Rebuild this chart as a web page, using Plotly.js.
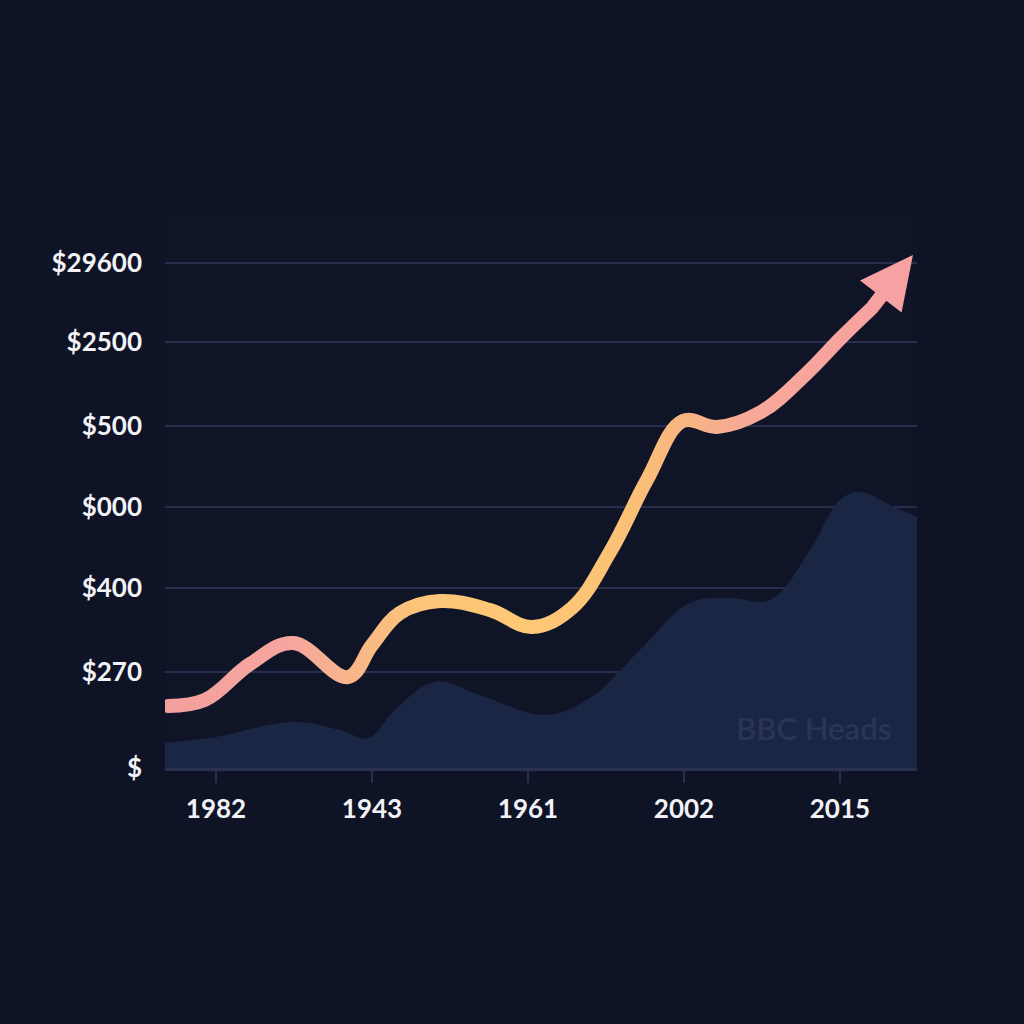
<!DOCTYPE html>
<html>
<head>
<meta charset="utf-8">
<script src="https://cdn.plot.ly/plotly-3.0.1.min.js"></script>
<style>
html,body{margin:0;padding:0;background:#0e1425;}
#chart{width:1024px;height:1024px;}
</style>
</head>
<body>
<div id="chart"></div>
<script>
// X axis tick positions and labels
const xTickVals = [0, 1, 2, 3, 4];
const xTickText = ['1982', '1943', '1961', '2002', '2015'];

// Y axis tick positions and labels
const yTickVals = [0, 1.143, 2.143, 3.107, 4.071, 5.071, 6.012];
const yTickText = ['$', '$270', '$400', '$000', '$500', '$2500', '$29600'];

// Main rising line (last point = arrow tip)
const lineX = [-0.308, -0.071, 0.218, 0.494, 0.846, 1.000, 1.179, 1.436, 1.756, 2.026, 2.282, 2.526, 2.763, 2.994, 3.212, 3.494, 3.782, 4.006, 4.205, 4.468];
const lineY = [0.738, 0.810, 1.238, 1.488, 1.083, 1.464, 1.845, 1.988, 1.881, 1.679, 1.905, 2.571, 3.429, 4.131, 4.060, 4.238, 4.690, 5.119, 5.476, 6.107];

// Background area series
const areaX = [-0.327, -0.006, 0.494, 0.795, 0.974, 1.147, 1.404, 1.692, 2.109, 2.397, 2.718, 3.038, 3.295, 3.551, 3.808, 4.000, 4.128, 4.321, 4.494];
const areaY = [0.298, 0.369, 0.548, 0.452, 0.357, 0.690, 1.024, 0.869, 0.631, 0.833, 1.405, 1.964, 2.024, 2.000, 2.595, 3.190, 3.286, 3.131, 2.988];

const n = lineX.length;
const bodyX = lineX.slice(0, n - 1);
const bodyY = lineY.slice(0, n - 1);

const data = [
  {
    x: areaX, y: areaY, type: 'scatter', mode: 'lines',
    line: {shape: 'spline', smoothing: 1.1, width: 0, color: 'rgba(0,0,0,0)'},
    fill: 'tozeroy', fillcolor: '#1b2645', hoverinfo: 'skip'
  },
  {
    x: bodyX, y: bodyY, type: 'scatter', mode: 'lines',
    line: {shape: 'spline', smoothing: 1.1, width: 14, color: '#fbbf7c'},
    hoverinfo: 'skip'
  }
];

const boldFont = {family: 'Lato, "Open Sans", sans-serif', size: 26, color: '#f2f2f7', weight: 'bold'};

const layout = {
  width: 1024, height: 1024,
  margin: {l: 165, r: 107, t: 215, b: 256},
  paper_bgcolor: '#0e1425',
  plot_bgcolor: '#0f1527',
  showlegend: false,
  xaxis: {
    range: [-0.327, 4.494],
    tickvals: xTickVals, ticktext: xTickText,
    showgrid: false, zeroline: false,
    showline: true, linecolor: '#283150', linewidth: 3,
    ticks: 'outside', ticklen: 12, tickwidth: 2, tickcolor: '#283150',
    ticklabelstandoff: 4,
    tickfont: boldFont
  },
  yaxis: {
    range: [0, 6.583],
    tickvals: yTickVals, ticktext: yTickText,
    showgrid: true, gridcolor: '#272f4f', gridwidth: 2,
    zeroline: false, showline: false,
    ticks: '', ticklabelstandoff: 22,
    tickfont: boldFont
  },
  annotations: [
    {
      x: lineX[n - 1], y: lineY[n - 1], xref: 'x', yref: 'y',
      ax: lineX[n - 2], ay: lineY[n - 2], axref: 'x', ayref: 'y',
      showarrow: true, arrowhead: 2, arrowsize: 0.75, arrowwidth: 14,
      arrowcolor: '#f7a2a2', text: ''
    },
    {
      x: 0.862, y: 0.072, xref: 'paper', yref: 'paper',
      xanchor: 'center', yanchor: 'middle',
      text: 'BBC Heads', showarrow: false,
      font: {family: 'Lato, "Open Sans", sans-serif', size: 31, color: '#2a3556', weight: 600}
    }
  ]
};

const gd = document.getElementById('chart');
Plotly.newPlot(gd, data, layout, {staticPlot: true, displayModeBar: false}).then(function () {
  const ns = 'http://www.w3.org/2000/svg';
  const svg = gd.querySelector('svg.main-svg');
  let defs = svg.querySelector('defs');
  if (!defs) { defs = document.createElementNS(ns, 'defs'); svg.insertBefore(defs, svg.firstChild); }
  const grad = document.createElementNS(ns, 'linearGradient');
  grad.setAttribute('id', 'lineGrad');
  grad.setAttribute('x1', '0'); grad.setAttribute('y1', '0');
  grad.setAttribute('x2', '1'); grad.setAttribute('y2', '0');
  const stops = [
    [0, '#f4a09e'], [0.18, '#f6a69e'], [0.26, '#f9b68a'], [0.36, '#fcc477'],
    [0.52, '#fdc876'], [0.66, '#fbc075'], [0.74, '#f9b384'], [0.83, '#f6a898'], [1, '#f7a2a1']
  ];
  stops.forEach(function (s) {
    const st = document.createElementNS(ns, 'stop');
    st.setAttribute('offset', s[0]);
    st.setAttribute('stop-color', s[1]);
    grad.appendChild(st);
  });
  defs.appendChild(grad);
  const traces = gd.querySelectorAll('.scatterlayer .trace');
  const lineTrace = traces[traces.length - 1];
  const path = lineTrace.querySelector('path.js-line');
  if (path) {
    path.style.stroke = 'url(#lineGrad)';
    path.style.strokeLinecap = 'round';
  }
});
</script>
</body>
</html>
